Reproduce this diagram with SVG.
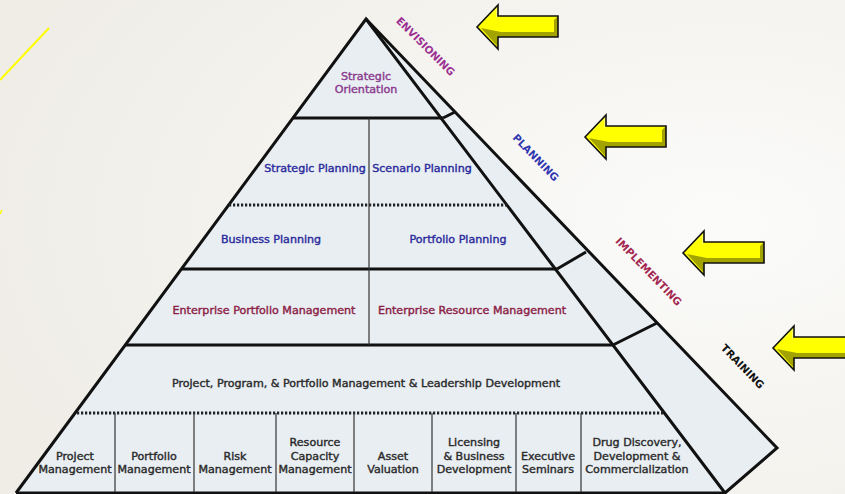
<svg xmlns="http://www.w3.org/2000/svg" width="845" height="494" viewBox="0 0 845 494">
<defs>
<radialGradient id="bg" cx="0.85" cy="0.45" r="0.9">
<stop offset="0" stop-color="#fbfbfa"/>
<stop offset="1" stop-color="#efede6"/>
</radialGradient>
<g id="arrow">
<polygon points="0,0 21,-22 21,-11 81,-11 81,10 21,10 21,22" fill="#ffff00"/>
<polygon points="24,5 77,5 77,-7 81,-11 81,10 21,10 21,20 4,1" fill="#a3a300"/>
<polygon points="3,-1 19,-17 19,-8 21,-11 21,-20" fill="#ffff66"/>
<polygon points="0,0 21,-22 21,-11 81,-11 81,10 21,10 21,22" fill="none" stroke="#111" stroke-width="1.6"/>
</g>
</defs>
<style>
.t{font-family:"DejaVu Sans","Verdana",sans-serif;font-size:11.1px;text-anchor:middle;stroke-width:0.4px}
.pu{fill:#8a3a8e;stroke:#8a3a8e}
.bl{fill:#2b2b9c;stroke:#2b2b9c}
.mr{fill:#8c2146;stroke:#8c2146}
.dk{fill:#2a2a2a;stroke:#2a2a2a}
.side{font-family:"DejaVu Sans",sans-serif;font-weight:bold;font-size:10.4px;text-anchor:middle}
.thick{stroke:#111;stroke-width:3;fill:none}
.thin{stroke:#333;stroke-width:1.2;fill:none}
.dot{stroke:#222;stroke-width:3;stroke-dasharray:2.2 1.8;fill:none}
</style>
<rect width="845" height="494" fill="url(#bg)"/>
<line x1="0" y1="80" x2="49" y2="28" stroke="#ffff00" stroke-width="2"/>
<line x1="0" y1="214" x2="2" y2="210" stroke="#ffff00" stroke-width="1.5"/>

<g id="pyramid">
<polygon points="366,19 777,448 725,493 16,493" fill="#e8eef2"/>
</g>

<g id="connectors">
<polyline class="thick" points="16,493 366,19 725,493"/>
<polyline class="thick" points="366,19 777,448 725,493 16,493"/>
<line class="thick" x1="292" y1="118" x2="443" y2="118"/>
<line class="thick" x1="443" y1="118" x2="455" y2="112"/>
<line class="thick" x1="182" y1="269" x2="557" y2="269"/>
<line class="thick" x1="557" y1="269" x2="586" y2="252"/>
<line class="thick" x1="125" y1="345" x2="613" y2="345"/>
<line class="thick" x1="613" y1="345" x2="657" y2="323"/>
<line class="dot" x1="229" y1="205" x2="508" y2="205"/>
<line class="dot" x1="77" y1="413" x2="665" y2="413"/>
<line class="thin" x1="369" y1="118" x2="369" y2="345"/>
<line class="thin" x1="115" y1="413" x2="115" y2="492"/>
<line class="thin" x1="194" y1="413" x2="194" y2="492"/>
<line class="thin" x1="276" y1="413" x2="276" y2="492"/>
<line class="thin" x1="354" y1="413" x2="354" y2="492"/>
<line class="thin" x1="432" y1="413" x2="432" y2="492"/>
<line class="thin" x1="516" y1="413" x2="516" y2="492"/>
<line class="thin" x1="581" y1="413" x2="581" y2="492"/>
</g>

<g id="strategic-orientation"><text class="t pu" x="366" y="80">Strategic</text><text class="t pu" x="366" y="93">Orientation</text></g>
<g id="strategic-planning"><text class="t bl" x="315" y="172">Strategic Planning</text></g>
<g id="scenario-planning"><text class="t bl" x="422" y="172">Scenario Planning</text></g>
<g id="business-planning"><text class="t bl" x="271" y="243">Business Planning</text></g>
<g id="portfolio-planning"><text class="t bl" x="458" y="243">Portfolio Planning</text></g>
<g id="enterprise-portfolio"><text class="t mr" x="264" y="314">Enterprise Portfolio Management</text></g>
<g id="enterprise-resource"><text class="t mr" x="472" y="314">Enterprise Resource Management</text></g>
<g id="pppm"><text class="t dk" x="366" y="387">Project, Program, &amp; Portfolio Management &amp; Leadership Development</text></g>

<g id="project-mgmt"><text class="t dk" x="75" y="460">Project</text><text class="t dk" x="75" y="473">Management</text></g>
<g id="portfolio-mgmt"><text class="t dk" x="154" y="460">Portfolio</text><text class="t dk" x="154" y="473">Management</text></g>
<g id="risk-mgmt"><text class="t dk" x="235" y="460">Risk</text><text class="t dk" x="235" y="473">Management</text></g>
<g id="resource-cap"><text class="t dk" x="315" y="446">Resource</text><text class="t dk" x="315" y="460">Capacity</text><text class="t dk" x="315" y="473">Management</text></g>
<g id="asset-val"><text class="t dk" x="393" y="460">Asset</text><text class="t dk" x="393" y="473">Valuation</text></g>
<g id="licensing"><text class="t dk" x="474" y="446">Licensing</text><text class="t dk" x="474" y="460">&amp; Business</text><text class="t dk" x="474" y="473">Development</text></g>
<g id="exec-sem"><text class="t dk" x="548" y="460">Executive</text><text class="t dk" x="548" y="473">Seminars</text></g>
<g id="drug"><text class="t dk" x="637" y="446">Drug Discovery,</text><text class="t dk" x="637" y="460">Development &amp;</text><text class="t dk" x="637" y="473">Commercialization</text></g>

<g id="envisioning"><text class="side" fill="#9b2f92" transform="translate(423,49) rotate(45)">ENVISIONING</text></g>
<g id="planning"><text class="side" fill="#2f35b0" transform="translate(533,160) rotate(46)">PLANNING</text></g>
<g id="implementing"><text class="side" fill="#a3264f" transform="translate(646,274) rotate(46)">IMPLEMENTING</text></g>
<g id="training"><text class="side" fill="#111" transform="translate(740,369) rotate(46)">TRAINING</text></g>

<g id="arrow1"><use href="#arrow" transform="translate(477,27)"/></g>
<g id="arrow2"><use href="#arrow" transform="translate(585,137)"/></g>
<g id="arrow3"><use href="#arrow" transform="translate(683,253)"/></g>
<g id="arrow4"><use href="#arrow" transform="translate(773,348)"/></g>
</svg>
